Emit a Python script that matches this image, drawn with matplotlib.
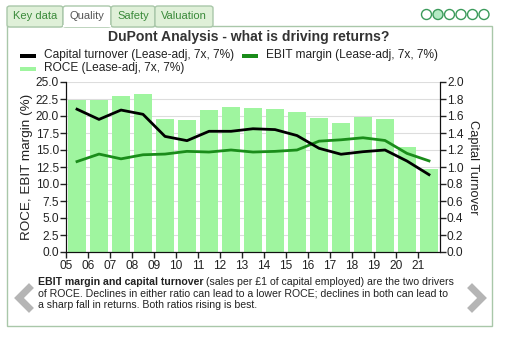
import numpy as np
import matplotlib
matplotlib.use("Agg")
import matplotlib.pyplot as plt
from matplotlib.patches import Rectangle, FancyBboxPatch, Ellipse
from matplotlib.lines import Line2D

plt.rcParams['font.family'] = ['Liberation Sans', 'DejaVu Sans']

# Data
years = np.arange(2005, 2022)
tick_labels = ['05', '06', '07', '08', '09', '10', '11', '12', '13',
               '14', '15', '16', '17', '18', '19', '20', '21']
roce = [22.3, 22.3, 22.9, 23.2, 19.6, 19.4, 20.9, 21.3, 21.2,
        21.1, 20.6, 19.7, 19.0, 19.8, 19.6, 15.4, 12.2]
ebit_margin = [13.3, 14.4, 13.7, 14.3, 14.4, 14.8, 14.7, 15.0, 14.7,
               14.8, 15.0, 16.3, 16.5, 16.8, 16.4, 14.5, 13.4]
cap_turnover = [1.68, 1.56, 1.67, 1.62, 1.36, 1.31, 1.42, 1.42, 1.45,
                1.44, 1.37, 1.22, 1.15, 1.18, 1.20, 1.07, 0.91]

W, H = 505, 340
fig = plt.figure(figsize=(W / 100, H / 100), dpi=100)

def fx(px):
    return px / W

def fy(py):
    return 1 - py / H

# ==============================
# Panel frame and tabs
# ==============================
border = '#a9c7a9'
fig.patches.append(Rectangle((fx(7), fy(326)), fx(485), (300) / H,
                             transform=fig.transFigure, fill=False,
                             edgecolor=border, lw=1))
tabs = [('Key data', 7, 63), ('Quality', 63, 111),
        ('Safety', 111, 155), ('Valuation', 155, 213)]
for name, x0, x1 in tabs:
    active = name == 'Quality'
    fig.patches.append(FancyBboxPatch(
        (fx(x0), fy(27)), fx(x1 - x0), 21 / H,
        boxstyle='round,pad=0,rounding_size=0.006',
        transform=fig.transFigure,
        facecolor='white' if active else '#dff0d8',
        edgecolor=border, lw=1))
    fig.text(fx((x0 + x1) / 2), fy(16), name, ha='center', va='center',
             fontsize=8, color='#555555' if active else '#3a8a3a')
# cover the frame top under the active tab
fig.add_artist(Line2D([fx(64), fx(110)], [fy(26), fy(26)],
                      transform=fig.transFigure, color='white', lw=1.5))

for i in range(6):
    cx = 426.5 + i * 11.5
    fig.patches.append(Ellipse((fx(cx), fy(14.5)), 10 / W, 10 / H,
                               transform=fig.transFigure,
                               facecolor='#b4eac4' if i == 1 else 'white',
                               edgecolor='#3a9a5a', lw=1))

# ==============================
# Title and legend
# ==============================
fig.text(fx(249), fy(37), 'DuPont Analysis - what is driving returns?',
         ha='center', va='center', fontsize=10.1, fontweight='bold',
         color='#333333')

legend_items = [('#000000', 20, 56, 44, 'Capital turnover (Lease-adj, 7x, 7%)'),
                ('#1a8c1a', 242, 56, 266, 'EBIT margin (Lease-adj, 7x, 7%)'),
                ('#9ff59f', 20, 69, 44, 'ROCE (Lease-adj, 7x, 7%)')]
for col, sx, sy, tx, label in legend_items:
    fig.patches.append(Rectangle((fx(sx), fy(sy + 1.5)), fx(16), 3.5 / H,
                                 transform=fig.transFigure,
                                 facecolor=col, edgecolor='none'))
    fig.text(fx(tx), fy(sy - 1), label, ha='left', va='center',
             fontsize=8.6, color='#222222')

# ==============================
# Chart
# ==============================
ax = fig.add_axes([fx(66), fy(252), fx(374), 170 / H])
centers = years + 0.5
ax.bar(centers, roce, width=0.8, color='#9ff59f', zorder=2)
ax.plot(centers, ebit_margin, color='#1a8c1a', lw=2, zorder=3)
ax.set_xlim(2005, 2022)
ax.set_ylim(0, 25)
ax.set_yticks(np.arange(0, 25.1, 2.5))
ax.set_yticklabels([f'{v:.1f}' for v in np.arange(0, 25.1, 2.5)])
ax.set_xticks(years)
ax.set_xticklabels(tick_labels)
ax.grid(axis='y', color='#dddddd', lw=0.8, zorder=0)
ax.set_axisbelow(True)
ax.set_ylabel('ROCE, EBIT margin (%)', fontsize=9.7, color='#222222', labelpad=2)

ax2 = ax.twinx()
ax2.plot(centers, cap_turnover, color='#000000', lw=2, zorder=3)
ax2.set_ylim(0, 2.0)
ax2.set_yticks(np.arange(0, 2.01, 0.2))
ax2.set_yticklabels([f'{v:.1f}' for v in np.arange(0, 2.01, 0.2)])
ax2.set_ylabel('Capital Turnover', fontsize=9.3, color='#222222',
               rotation=-90, labelpad=11)

for a in (ax, ax2):
    a.tick_params(labelsize=8.6, colors='#222222', length=4, width=1, pad=1)
    a.spines['top'].set_visible(False)
    for s in a.spines.values():
        s.set_color('#111111')
ax.tick_params(axis='x', pad=2)

# ==============================
# Caption and arrows
# ==============================
cap_fs = 7.6
renderer = fig.canvas.get_renderer()
bold = fig.text(fx(38), fy(282), 'EBIT margin and capital turnover',
                ha='left', va='center', fontsize=cap_fs, fontweight='bold',
                color='#222222')
bb = bold.get_window_extent(renderer)
fig.text(bb.x1 / W + fx(2),
         fy(282), '(sales per £1 of capital employed) are the two drivers',
         ha='left', va='center', fontsize=cap_fs, color='#222222')
fig.text(fx(38), fy(293.5),
         'of ROCE. Declines in either ratio can lead to a lower ROCE; declines in both can lead to',
         ha='left', va='center', fontsize=cap_fs, color='#222222')
fig.text(fx(38), fy(305),
         'a sharp fall in returns. Both ratios rising is best.',
         ha='left', va='center', fontsize=cap_fs, color='#222222')

for pts in ([(29, 288), (19, 298), (29, 308)], [(472, 288), (482, 298), (472, 308)]):
    xs = [fx(p[0]) for p in pts]
    ys = [fy(p[1]) for p in pts]
    fig.add_artist(Line2D(xs, ys, transform=fig.transFigure,
                          color='#b5b5b5', lw=5, solid_joinstyle='miter'))

fig.savefig('out.png', dpi=100)
